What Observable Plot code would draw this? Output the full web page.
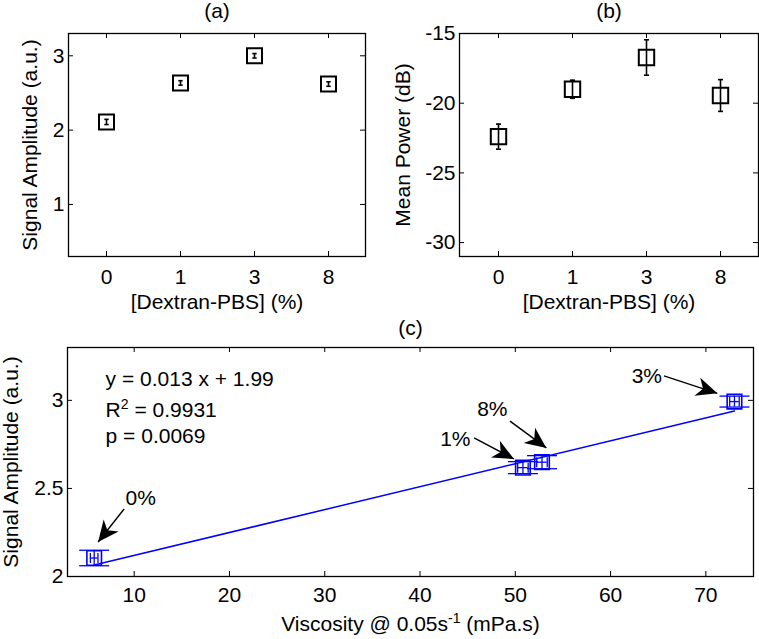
<!DOCTYPE html>
<html><head><meta charset="utf-8">
<script src="https://cdn.jsdelivr.net/npm/d3@7"></script>
<script src="https://cdn.jsdelivr.net/npm/@observablehq/plot@0.6"></script>
<style>
body{margin:0;background:#fff;}
#root{position:relative;width:759px;height:639px;overflow:hidden;background:#fff;}
#root svg{position:absolute;}
</style></head><body><div id="root"></div>
<script>
// ---------- data ----------
const concentrations = ["0", "1", "3", "8"];
const amplitudeMean = [2.11, 2.635, 3.0, 2.62];
const amplitudeErr = [0.035, 0.03, 0.03, 0.03];
const powerMean = [-22.4, -19.0, -16.72, -19.45];
const powerErr = [0.9, 0.65, 1.27, 1.14];

const pctLabels = ["0%", "1%", "3%", "8%"];
const viscosity = [5.8, 50.8, 73.0, 52.8];
const viscosityErr = [0.4, 0.55, 0.5, 0.55];
const amplitudeC = [2.105, 2.618, 2.993, 2.649];
const amplitudeCErr = [0.044, 0.034, 0.031, 0.037];

const fitX = [5.8, 73.0];
const fitY = [2.065, 2.939];

const statsLines = ["y = 0.013 x + 1.99", "R^{2} = 0.9931", "p = 0.0069"];
const statsX = [7.0, 7.0, 7.0];
const statsY = [3.12, 2.945, 2.796];

const labelX = [9.1, 45.3, 65.4, 46.0];
const labelY = [2.446, 2.777, 3.135, 2.949];
const arrowX1 = [8.94, 45.67, 65.6, 49.44];
const arrowY1 = [2.383, 2.787, 3.139, 2.882];
const arrowX2 = [6.21, 49.86, 71.2, 53.26];
const arrowY2 = [2.196, 2.667, 3.04, 2.730];

const ampTicks = [1, 2, 3];
const powerTicks = [-30, -25, -20, -15];
const viscTicks = [10, 20, 30, 40, 50, 60, 70];
const ampCTicks = [2, 2.5, 3];

// ---------- helpers ----------
const FONT = "'Liberation Sans', Arial, Helvetica, sans-serif";
const FS = 21;
const labelAnchor = ["start", "end", "end", "start"];
const centered = {textAnchor: "middle", lineAnchor: "middle", fontSize: FS};

const squareSym = {draw(ctx, size) { const r = Math.sqrt(size / Math.PI); ctx.rect(-r, -r, 2 * r, 2 * r); }};
const hCap = {draw(ctx, size) { const r = Math.sqrt(size / Math.PI); ctx.moveTo(-r, 0); ctx.lineTo(r, 0); }};
const vCap = {draw(ctx, size) { const r = Math.sqrt(size / Math.PI); ctx.moveTo(0, -r); ctx.lineTo(0, r); }};

function dart(color) {
  const m = d3.create("svg:marker")
    .attr("viewBox", "-24 -12 26 24")
    .attr("markerWidth", 26).attr("markerHeight", 24)
    .attr("markerUnits", "userSpaceOnUse")
    .attr("refX", 0).attr("refY", 0)
    .attr("orient", "auto")
    .attr("fill", color).attr("stroke", "none");
  m.append("path").attr("d", "M0,0L-21,-9.5L-15,0L-21,9.5Z");
  return m.node();
}

function frameTicks(xTicks, yTicks, innerW, innerH, len = 5) {
  const o = {stroke: "black", strokeWidth: 1};
  return [
    Plot.tickX(xTicks, {x: d => d, insetTop: innerH - len, ...o}),
    Plot.tickX(xTicks, {x: d => d, insetBottom: innerH - len, ...o}),
    Plot.tickY(yTicks, {y: d => d, insetRight: innerW - len, ...o}),
    Plot.tickY(yTicks, {y: d => d, insetLeft: innerW - len, ...o})
  ];
}

function superscripts(svg) {
  d3.select(svg).selectAll("text").each(function() {
    const t = this.textContent;
    if (!t.includes("^{")) return;
    const parts = t.split(/\^\{([^}]*)\}/);
    this.textContent = "";
    const sel = d3.select(this);
    parts.forEach((p, i) => {
      if (p === "") return;
      const ts = sel.append("tspan").text(p);
      if (i % 2 === 1) { ts.attr("dy", -8).attr("font-size", 14); }
      else if (i > 0) { ts.attr("dy", 8); }
    });
  });
  return svg;
}

const root = document.getElementById("root");
function place(svg, left, top) {
  svg.style.left = left + "px";
  svg.style.top = top + "px";
  root.appendChild(superscripts(svg));
}

const baseStyle = {fontFamily: FONT, fontSize: FS + "px", color: "black", background: "white", overflow: "visible"};

// ---------- panel (a) ----------
{
  const W = 380, H = 320, m = {l: 68, r: 15, t: 33, b: 64};
  const data = concentrations.map((c, i) => ({c, y: amplitudeMean[i], e: amplitudeErr[i]}));
  const svg = Plot.plot({
    width: W, height: H, marginLeft: m.l, marginRight: m.r, marginTop: m.t, marginBottom: m.b,
    style: baseStyle,
    x: {type: "point", domain: concentrations, padding: 0.5, label: null},
    y: {domain: [0.3, 3.3], label: null},
    marks: [
      ...frameTicks(concentrations, ampTicks, W - m.l - m.r, H - m.t - m.b),
      Plot.frame({stroke: "black", strokeWidth: 1.3}),
      Plot.axisX({tickSize: 0, tickPadding: 12.5, label: null, fontSize: FS}),
      Plot.axisY({ticks: ampTicks, tickSize: 0, tickPadding: 4, label: null, fontSize: FS, tickFormat: d => String(d)}),
      Plot.ruleX(data, {x: "c", y1: d => d.y - d.e, y2: d => d.y + d.e, stroke: "black", strokeWidth: 1.6}),
      Plot.dot(data, {x: "c", y: d => d.y - d.e, symbol: hCap, r: 2.2, stroke: "black", fill: "none", strokeWidth: 1.6}),
      Plot.dot(data, {x: "c", y: d => d.y + d.e, symbol: hCap, r: 2.2, stroke: "black", fill: "none", strokeWidth: 1.6}),
      Plot.dot(data, {x: "c", y: "y", symbol: squareSym, r: 7.5, stroke: "black", fill: "none", strokeWidth: 2}),
      Plot.text(["(a)"], {frameAnchor: "top", dy: -22, ...centered}),
      Plot.text(["Signal Amplitude (a.u.)"], {frameAnchor: "left", rotate: -90, dx: -38, ...centered}),
      Plot.text(["[Dextran-PBS] (%)"], {frameAnchor: "bottom", dy: 46, ...centered})
    ]
  });
  place(svg, 0, 0);
}

// ---------- panel (b) ----------
{
  const W = 379, H = 320, m = {l: 79, r: 1, t: 33, b: 64};
  const data = concentrations.map((c, i) => ({c, y: powerMean[i], e: powerErr[i]}));
  const svg = Plot.plot({
    width: W, height: H, marginLeft: m.l, marginRight: m.r, marginTop: m.t, marginBottom: m.b,
    style: baseStyle,
    x: {type: "point", domain: concentrations, padding: 0.5, label: null},
    y: {domain: [-31, -15], label: null},
    marks: [
      ...frameTicks(concentrations, powerTicks, W - m.l - m.r, H - m.t - m.b),
      Plot.frame({stroke: "black", strokeWidth: 1.3}),
      Plot.axisX({tickSize: 0, tickPadding: 12.5, label: null, fontSize: FS}),
      Plot.axisY({ticks: powerTicks, tickSize: 0, tickPadding: 4, label: null, fontSize: FS, tickFormat: d => String(d)}),
      Plot.ruleX(data, {x: "c", y1: d => d.y - d.e, y2: d => d.y + d.e, stroke: "black", strokeWidth: 1.6}),
      Plot.dot(data, {x: "c", y: d => d.y - d.e, symbol: hCap, r: 2.5, stroke: "black", fill: "none", strokeWidth: 1.6}),
      Plot.dot(data, {x: "c", y: d => d.y + d.e, symbol: hCap, r: 2.5, stroke: "black", fill: "none", strokeWidth: 1.6}),
      Plot.dot(data, {x: "c", y: "y", symbol: squareSym, r: 7.7, stroke: "black", fill: "none", strokeWidth: 2}),
      Plot.text(["(b)"], {frameAnchor: "top", dy: -22, ...centered}),
      Plot.text(["Mean Power (dB)"], {frameAnchor: "left", rotate: -90, dx: -56, ...centered}),
      Plot.text(["[Dextran-PBS] (%)"], {frameAnchor: "bottom", dy: 46, ...centered})
    ]
  });
  place(svg, 380, 0);
}

// ---------- panel (c) ----------
{
  const W = 759, H = 319, m = {l: 67, r: 6, t: 27, b: 63};
  const BLUE = "#0000ff";
  const pts = pctLabels.map((p, i) => ({p, x: viscosity[i], xe: viscosityErr[i], y: amplitudeC[i], ye: amplitudeCErr[i]}));
  const fit = fitX.map((x, i) => ({x, y: fitY[i]}));
  const stats = statsLines.map((s, i) => ({s, x: statsX[i], y: statsY[i]}));
  const notes = pctLabels.map((p, i) => ({p, x: labelX[i], y: labelY[i], a: labelAnchor[i],
    x1: arrowX1[i], y1: arrowY1[i], x2: arrowX2[i], y2: arrowY2[i]}));
  const svg = Plot.plot({
    width: W, height: H, marginLeft: m.l, marginRight: m.r, marginTop: m.t, marginBottom: m.b,
    style: baseStyle,
    x: {domain: [3, 75], label: null},
    y: {domain: [2, 3.3], label: null},
    marks: [
      ...frameTicks(viscTicks, ampCTicks, W - m.l - m.r, H - m.t - m.b),
      Plot.frame({stroke: "black", strokeWidth: 1.3}),
      Plot.axisX({ticks: viscTicks, tickSize: 0, tickPadding: 11, label: null, fontSize: FS, tickFormat: d => String(d)}),
      Plot.axisY({ticks: ampCTicks, tickSize: 0, tickPadding: 4, label: null, fontSize: FS, tickFormat: d => String(d)}),
      Plot.line(fit, {x: "x", y: "y", stroke: BLUE, strokeWidth: 1.5}),
      // y error bars
      Plot.ruleX(pts, {x: "x", y1: d => d.y - d.ye, y2: d => d.y + d.ye, stroke: BLUE, strokeWidth: 1.3}),
      Plot.dot(pts, {x: "x", y: d => d.y - d.ye, symbol: hCap, r: 15, stroke: BLUE, fill: "none", strokeWidth: 1.3}),
      Plot.dot(pts, {x: "x", y: d => d.y + d.ye, symbol: hCap, r: 15, stroke: BLUE, fill: "none", strokeWidth: 1.3}),
      // x error bars
      Plot.ruleY(pts, {y: "y", x1: d => d.x - d.xe, x2: d => d.x + d.xe, stroke: BLUE, strokeWidth: 1.3}),
      Plot.dot(pts, {x: d => d.x - d.xe, y: "y", symbol: vCap, r: 5, stroke: BLUE, fill: "none", strokeWidth: 1.3}),
      Plot.dot(pts, {x: d => d.x + d.xe, y: "y", symbol: vCap, r: 5, stroke: BLUE, fill: "none", strokeWidth: 1.3}),
      Plot.dot(pts, {x: "x", y: "y", symbol: squareSym, r: 7.3, stroke: BLUE, fill: "none", strokeWidth: 1.6}),
      // annotations
      Plot.link(notes, {x1: "x1", y1: "y1", x2: "x2", y2: "y2", stroke: "black", strokeWidth: 1.4, markerEnd: dart}),
      Plot.text(notes.filter(d => d.a === "start"), {x: "x", y: "y", text: "p", textAnchor: "start", lineAnchor: "middle", fontSize: FS}),
      Plot.text(notes.filter(d => d.a === "end"), {x: "x", y: "y", text: "p", textAnchor: "end", lineAnchor: "middle", fontSize: FS}),
      Plot.text(stats, {x: "x", y: "y", text: "s", textAnchor: "start", lineAnchor: "middle", fontSize: FS}),
      Plot.text(["(c)"], {frameAnchor: "top", dy: -19, ...centered}),
      Plot.text(["Signal Amplitude (a.u.)"], {frameAnchor: "left", rotate: -90, dx: -56, ...centered}),
      Plot.text(["Viscosity @ 0.05s^{-1} (mPa.s)"], {frameAnchor: "bottom", dy: 48, ...centered})
    ]
  });
  place(svg, 0, 320);
}
</script></body></html>
